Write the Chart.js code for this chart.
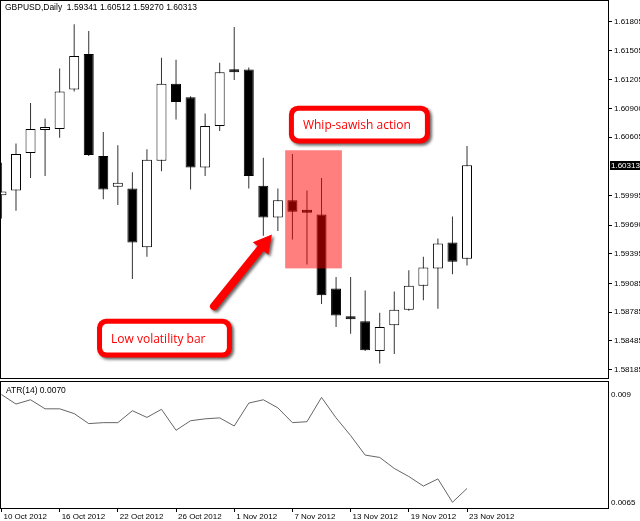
<!DOCTYPE html>
<html>
<head>
<meta charset="utf-8">
<script src="https://cdn.jsdelivr.net/npm/chart.js@4.4.1/dist/chart.umd.min.js"></script>
<style>
  html, body { margin: 0; padding: 0; background: #fff; }
  #wrap { position: relative; width: 640px; height: 521px; overflow: hidden; }
  canvas { position: absolute; left: 0; }
  #price { top: 0; }
  #atr { top: 381px; }
</style>
</head>
<body>
<div id="wrap">
  <canvas id="price" width="640" height="380"></canvas>
  <canvas id="atr" width="640" height="140"></canvas>
</div>
<script>
// trading days shown on the chart
const dates = [
  '10 Oct 2012','11 Oct 2012','12 Oct 2012','15 Oct 2012','16 Oct 2012','17 Oct 2012','18 Oct 2012','19 Oct 2012',
  '22 Oct 2012','23 Oct 2012','24 Oct 2012','25 Oct 2012','26 Oct 2012','29 Oct 2012','30 Oct 2012','31 Oct 2012',
  '1 Nov 2012','2 Nov 2012','5 Nov 2012','6 Nov 2012','7 Nov 2012','8 Nov 2012','9 Nov 2012','12 Nov 2012',
  '13 Nov 2012','14 Nov 2012','15 Nov 2012','16 Nov 2012','19 Nov 2012','20 Nov 2012','21 Nov 2012','22 Nov 2012',
  '23 Nov 2012'
];
const opens  = [1.6000,1.6005,1.6044,1.6068,1.6069,1.6110,1.6147,1.6041,1.6009,1.6007,1.5946,1.6036,1.6116,1.6102,1.6029,1.6072,
                1.6129,1.6131,1.6010,1.5977,1.5995,1.5983,1.5980,1.5903,1.5874,1.5869,1.5838,1.5865,1.5881,1.5906,1.5924,1.5951,1.59341];
const highs  = [1.6034,1.6054,1.6096,1.6080,1.6132,1.6178,1.6171,1.6066,1.6052,1.6024,1.6048,1.6143,1.6141,1.6103,1.6085,1.6138,
                1.6175,1.6133,1.6039,1.6007,1.6043,1.6005,1.6018,1.5915,1.5915,1.5901,1.5878,1.5900,1.5922,1.5936,1.5955,1.5978,1.60512];
const lows   = [1.5976,1.5984,1.6018,1.6020,1.6060,1.6108,1.6041,1.5996,1.5990,1.5913,1.5936,1.6025,1.6079,1.6006,1.6020,1.6067,
                1.6120,1.6007,1.5958,1.5963,1.5954,1.5928,1.5887,1.5863,1.5856,1.5838,1.5825,1.5835,1.5880,1.5891,1.5882,1.5918,1.59270];
const closes = [1.6004,1.6043,1.6069,1.6070,1.6108,1.6145,1.6042,1.6006,1.6013,1.5951,1.6037,1.6116,1.6097,1.6029,1.6072,1.6128,
                1.6128,1.6020,1.5977,1.5995,1.5983,1.5982,1.5896,1.5875,1.5871,1.5839,1.5863,1.5881,1.5906,1.5925,1.5950,1.5931,1.60313];
const atr = [0.00893,0.00873,0.00882,0.00863,0.00863,0.00853,0.00832,0.00834,0.00834,0.00859,0.00845,0.00862,0.00818,0.00838,0.00842,0.00844,
             0.00827,0.00875,0.00882,0.00865,0.00834,0.00836,0.00887,0.00844,0.00807,0.00766,0.00761,0.00738,0.00721,0.00701,0.00716,0.00667,0.00696];

const priceTickLabels = ['1.61805','1.61505','1.61205','1.60900','1.60605','1.59995','1.59690','1.59395','1.59085','1.58785','1.58485','1.58185'];
const atrTickLabels = ['0.009', '0.0065'];
const symbol = 'GBPUSD,Daily';
const atrName = 'ATR(14)';

// annotations, in bar index / price units
const whipZone = { x0: 19.5, x1: 23.4, y0: 1.60469, y1: 1.5924 };
const whipNote = { text: 'Whip-sawish action', x0: 19.76, x1: 29.45, y0: 1.60933, y1: 1.6054 };
const lowNote  = { text: 'Low volatility bar', x0: 6.57, x1: 15.84, y0: 1.58716, y1: 1.58312 };
const arrow    = { x0: 14.61, y0: 1.58847, x1: 18.59, y1: 1.59592 };

const xMin = -0.03, xMax = 41.69;
const last = closes.length - 1;

Chart.defaults.font.family = '"Liberation Sans", Arial, sans-serif';
Chart.defaults.font.size = 8;
Chart.defaults.color = '#000';

function noteBox(ctx, xs, ys, n) {
  const l = xs.getPixelForValue(n.x0), r = xs.getPixelForValue(n.x1);
  const t = ys.getPixelForValue(n.y0), b = ys.getPixelForValue(n.y1);
  ctx.save();
  ctx.shadowColor = 'rgba(0,0,0,0.6)';
  ctx.shadowBlur = 3;
  ctx.shadowOffsetX = 2;
  ctx.shadowOffsetY = 2;
  ctx.fillStyle = '#ff0000';
  ctx.beginPath();
  ctx.roundRect(l, t, r - l, b - t, 9);
  ctx.fill();
  ctx.restore();
  ctx.save();
  ctx.fillStyle = '#fff';
  ctx.beginPath();
  ctx.roundRect(l + 5, t + 5, r - l - 10, b - t - 10, 5);
  ctx.fill();
  ctx.fillStyle = '#ff0000';
  ctx.font = '12px "Open Sans", sans-serif';
  ctx.textBaseline = 'middle';
  ctx.fillText(n.text, l + 14, (t + b) / 2 + 1);
  ctx.restore();
}

function drawArrow(ctx, xs, ys, a) {
  const tx = xs.getPixelForValue(a.x0), ty = ys.getPixelForValue(a.y0);
  const hx = xs.getPixelForValue(a.x1), hy = ys.getPixelForValue(a.y1);
  const len = Math.hypot(hx - tx, hy - ty);
  const ux = (hx - tx) / len, uy = (hy - ty) / len;
  const nx = -uy, ny = ux;
  const sw = 4, hw = 10, hl = 18;
  const neckX = hx - ux * hl, neckY = hy - uy * hl;
  const ang = Math.atan2(uy, ux);
  ctx.save();
  ctx.shadowColor = 'rgba(0,0,0,0.6)';
  ctx.shadowBlur = 3;
  ctx.shadowOffsetX = 2;
  ctx.shadowOffsetY = 2;
  ctx.fillStyle = '#ff0000';
  ctx.beginPath();
  ctx.moveTo(neckX + nx * sw, neckY + ny * sw);
  ctx.lineTo(tx + nx * sw, ty + ny * sw);
  ctx.arc(tx, ty, sw, ang + Math.PI / 2, ang + Math.PI * 1.5, false);
  ctx.lineTo(neckX - nx * sw, neckY - ny * sw);
  ctx.lineTo(neckX - nx * hw, neckY - ny * hw);
  ctx.lineTo(hx, hy);
  ctx.lineTo(neckX + nx * hw, neckY + ny * hw);
  ctx.closePath();
  ctx.fill();
  ctx.restore();
}

const priceOverlay = {
  id: 'priceOverlay',
  afterDatasetsDraw(chart) {
    const ctx = chart.ctx, xs = chart.scales.x, ys = chart.scales.y;
    // shaded zone
    const zl = xs.getPixelForValue(whipZone.x0), zr = xs.getPixelForValue(whipZone.x1);
    const zt = ys.getPixelForValue(whipZone.y0), zb = ys.getPixelForValue(whipZone.y1);
    ctx.save();
    ctx.fillStyle = 'rgba(255,0,0,0.5)';
    ctx.fillRect(zl, zt, zr - zl, zb - zt);
    ctx.restore();
    noteBox(ctx, xs, ys, whipNote);
    noteBox(ctx, xs, ys, lowNote);
    drawArrow(ctx, xs, ys, arrow);
  },
  afterDraw(chart) {
    const ctx = chart.ctx, ys = chart.scales.y;
    ctx.save();
    ctx.strokeStyle = '#000';
    ctx.lineWidth = 1;
    ctx.strokeRect(0.5, 0.5, 608, 378);
    ctx.font = '8.5px "Liberation Sans", Arial, sans-serif';
    ctx.fillStyle = '#000';
    ctx.textBaseline = 'middle';
    const hdr = symbol + '  ' + [opens[last], highs[last], lows[last], closes[last]].map(v => v.toFixed(5)).join(' ');
    ctx.fillText(hdr, 5, 8);
    // current price marker
    ctx.font = '8px "Liberation Sans", Arial, sans-serif';
    const py = ys.getPixelForValue(closes[last]);
    ctx.fillRect(610, Math.round(py) - 4, 30, 9);
    ctx.fillStyle = '#fff';
    ctx.fillText(closes[last].toFixed(5), 611, py + 0.5);
    ctx.restore();
  }
};

new Chart(document.getElementById('price'), {
  type: 'bar',
  data: {
    datasets: [
      {
        data: opens.map((o, i) => ({ x: i, y: [o, closes[i]] })),
        backgroundColor: c => closes[c.dataIndex] >= opens[c.dataIndex] ? '#fff' : '#000',
        borderColor: '#000',
        borderWidth: 1,
        borderSkipped: false,
        barThickness: 10,
        minBarLength: 3,
        inflateAmount: 0,
        grouped: false,
        order: 1
      },
      {
        data: lows.map((l, i) => ({ x: i, y: [l, highs[i]] })),
        backgroundColor: '#333',
        borderWidth: 0,
        barThickness: 1,
        inflateAmount: 0,
        grouped: false,
        order: 2
      }
    ]
  },
  options: {
    responsive: false,
    animation: false,
    events: [],
    layout: { padding: { left: 1, top: 1, bottom: 1, right: 0 } },
    plugins: { legend: { display: false }, tooltip: { enabled: false } },
    scales: {
      x: { type: 'linear', min: xMin, max: xMax, offset: false, display: false },
      y: {
        position: 'right',
        min: 1.58150, max: 1.61961,
        beginAtZero: false,
        border: { display: false },
        grid: { drawOnChartArea: false, drawTicks: true, tickLength: 4, color: '#000' },
        afterBuildTicks: s => { s.ticks = priceTickLabels.map(t => ({ value: parseFloat(t) })); },
        afterFit: s => { s.width = 32; },
        ticks: { autoSkip: false, padding: 2, callback: (v, i) => priceTickLabels[i] }
      }
    }
  },
  plugins: [priceOverlay]
});

const atrOverlay = {
  id: 'atrOverlay',
  afterDraw(chart) {
    const ctx = chart.ctx;
    ctx.save();
    ctx.strokeStyle = '#000';
    ctx.lineWidth = 1;
    ctx.strokeRect(0.5, 0.5, 608, 127);
    ctx.font = '8.5px "Liberation Sans", Arial, sans-serif';
    ctx.fillStyle = '#000';
    ctx.textBaseline = 'middle';
    ctx.fillText(atrName + ' ' + atr[last].toFixed(4), 6, 10);
    ctx.restore();
  }
};

new Chart(document.getElementById('atr'), {
  type: 'line',
  data: {
    datasets: [{
      data: atr.map((v, i) => ({ x: i, y: v })),
      borderColor: '#666',
      borderWidth: 1,
      pointRadius: 0,
      tension: 0
    }]
  },
  options: {
    responsive: false,
    animation: false,
    events: [],
    layout: { padding: { left: 1, top: 1, bottom: 0, right: 0 } },
    plugins: { legend: { display: false }, tooltip: { enabled: false } },
    scales: {
      x: {
        type: 'linear', min: xMin, max: xMax, offset: false,
        border: { display: false },
        grid: { drawOnChartArea: false, drawTicks: true, tickLength: 4, color: '#000' },
        afterBuildTicks: s => { s.ticks = dates.map((d, i) => i).filter(i => i % 4 === 0).map(i => ({ value: i })); },
        afterFit: s => { s.height = 13; },
        ticks: { autoSkip: false, maxRotation: 0, align: 'start', padding: 0, labelOffset: 2, callback: v => dates[v] }
      },
      y: {
        position: 'right',
        min: 0.00655, max: 0.00905,
        border: { display: false },
        grid: { display: false, drawTicks: false },
        afterBuildTicks: s => {
          const d = (s.max - s.min) * 6 / 126;
          s.ticks = [{ value: s.max - d }, { value: s.min + d }];
        },
        afterFit: s => { s.width = 32; },
        ticks: { autoSkip: false, padding: 3, callback: (v, i) => atrTickLabels[i] }
      }
    }
  },
  plugins: [atrOverlay]
});
</script>
</body>
</html>
